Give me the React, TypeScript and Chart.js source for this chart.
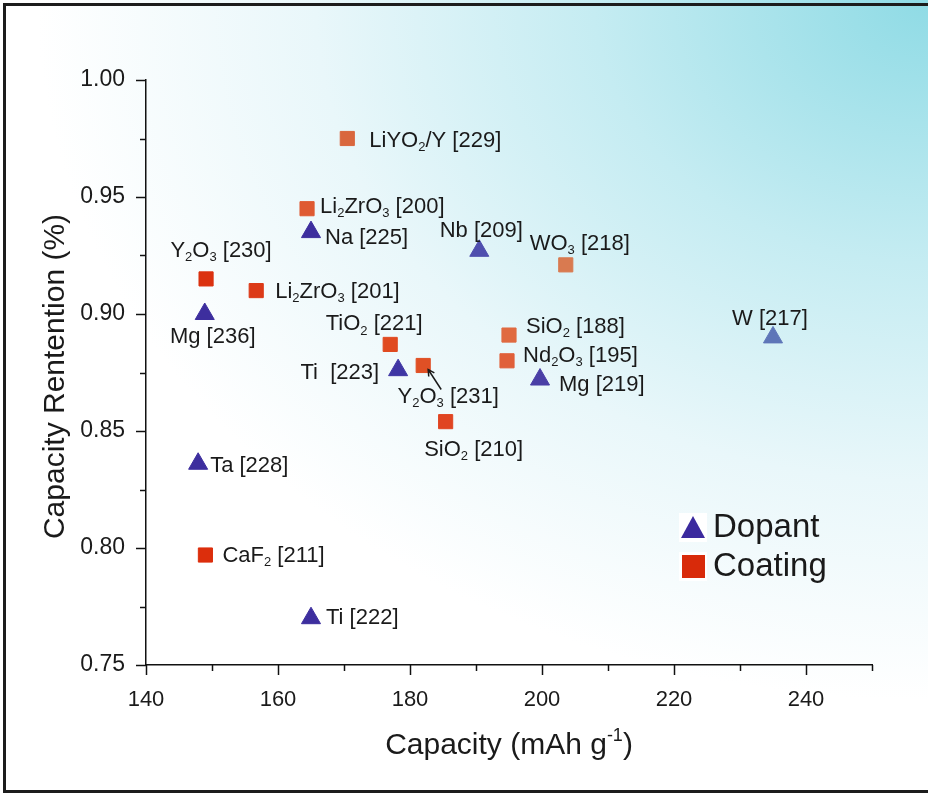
import React, { useEffect, useRef } from "react";
import { Chart, registerables } from "chart.js";

Chart.register(...registerables);

// ---------- data ----------
const dopantX = [165, 190.5, 148.9, 178.2, 199.7, 235, 147.9, 165];
const dopantY = [0.935, 0.927, 0.9, 0.876, 0.872, 0.89, 0.836, 0.77];
const dopantLabels = ["Na [225]", "Nb [209]", "Mg [236]", "Ti  [223]", "Mg [219]", "W [217]", "Ta [228]", "Ti [222]"];
const dopantColors = ["#3d2e9e", "#4f4fae", "#3d2e9e", "#3f36a4", "#4a3fa6", "#5e76b8", "#3d2e9e", "#3d2e9e"];

const coatingX = [170.5, 164.4, 149.1, 156.7, 203.6, 177, 182, 195, 194.7, 185.4, 149];
const coatingY = [0.975, 0.945, 0.915, 0.91, 0.921, 0.887, 0.878, 0.891, 0.88, 0.854, 0.797];
const coatingLabels = [
  "LiYO_2/Y [229]", "Li_2ZrO_3 [200]", "Y_2O_3 [230]", "Li_2ZrO_3 [201]", "WO_3 [218]",
  "TiO_2 [221]", "Y_2O_3 [231]", "SiO_2 [188]", "Nd_2O_3 [195]", "SiO_2 [210]", "CaF_2 [211]",
];
const coatingColors = ["#d9673e", "#df5a32", "#db3210", "#dc3a18", "#d97a50", "#e04a20", "#e05025", "#e06a40", "#e0603a", "#e04522", "#dc2e0c"];

const xTicksMin = 140;
const xTicksMax = 250;
const xMajorStep = 20;
const yTicksMin = 0.75;
const yTicksMax = 1.0;
const yMajorStep = 0.05;

// label placement (offset from point in px, alignment)
const dopantLabelPos: [number, number, string][] = [
  [14, 6, "left"], [2, -20, "center"], [8, 23, "center"], [-19, 3, "right"],
  [19, 5, "left"], [-3, -18, "center"], [12, 2, "left"], [15, 0, "left"],
];
const coatingLabelPos: [number, number, string][] = [
  [22, 2, "left"], [13, -2, "left"], [15, -28, "center"], [19, 1, "left"], [14, -21, "center"],
  [-16, -20, "center"], [25, 31, "center"], [17, -8, "left"], [16, -5, "left"], [28, 28, "center"], [17, 1, "left"],
];

const FONT = "'Liberation Sans', Arial, Helvetica, sans-serif";
const TEXT = "#1a1a1a";

type Seg = { t: string; kind: "n" | "sub" | "sup" };
function parseRich(text: string): Seg[] {
  const segs: Seg[] = [];
  let cur = "";
  let i = 0;
  while (i < text.length) {
    const c = text[i];
    if (c === "_" || c === "^") {
      if (cur) segs.push({ t: cur, kind: "n" });
      cur = "";
      let s = "";
      if (text[i + 1] === "{") {
        const end = text.indexOf("}", i);
        s = text.slice(i + 2, end);
        i = end + 1;
      } else {
        s = text[i + 1];
        i += 2;
      }
      segs.push({ t: s, kind: c === "_" ? "sub" : "sup" });
    } else {
      cur += c;
      i++;
    }
  }
  if (cur) segs.push({ t: cur, kind: "n" });
  return segs;
}

function drawRich(ctx: CanvasRenderingContext2D, text: string, x: number, y: number, size: number, align: string) {
  const segs = parseRich(text);
  const small = Math.round(size * 0.6);
  const widths = segs.map((s) => {
    ctx.font = `${s.kind === "n" ? size : small}px ${FONT}`;
    return ctx.measureText(s.t).width;
  });
  const total = widths.reduce((a, b) => a + b, 0);
  let cx = align === "left" ? x : align === "right" ? x - total : x - total / 2;
  ctx.textAlign = "left";
  ctx.textBaseline = "middle";
  ctx.fillStyle = TEXT;
  segs.forEach((s, k) => {
    ctx.font = `${s.kind === "n" ? size : small}px ${FONT}`;
    const dy = s.kind === "sub" ? size * 0.3 : s.kind === "sup" ? -size * 0.32 : 0;
    ctx.fillText(s.t, cx, y + dy);
    cx += widths[k];
  });
}

const isMajor = (v: number, step: number) => Math.abs(Math.round(v / step) * step - v) < 1e-6;

const annotPlugin = {
  id: "annot",
  afterDraw(chart: any) {
    const ctx: CanvasRenderingContext2D = chart.ctx;
    ctx.save();
    // custom tick marks (major long, minor short)
    const area = chart.chartArea;
    const xs = chart.scales.x;
    const ys = chart.scales.y;
    ctx.strokeStyle = "#111";
    ctx.lineWidth = 1.5;
    xs.ticks.forEach((t: any) => {
      const px = Math.round(xs.getPixelForValue(t.value)) + 0.5;
      const len = isMajor(t.value, xMajorStep) && t.value < xTicksMax ? 10 : 6;
      ctx.beginPath();
      ctx.moveTo(px, area.bottom);
      ctx.lineTo(px, area.bottom + len);
      ctx.stroke();
    });
    ys.ticks.forEach((t: any) => {
      const py = Math.round(ys.getPixelForValue(t.value)) + 0.5;
      const len = isMajor(t.value, yMajorStep) ? 10 : 6;
      ctx.beginPath();
      ctx.moveTo(area.left, py);
      ctx.lineTo(area.left - len, py);
      ctx.stroke();
    });

    const sets = [
      { labels: dopantLabels, pos: dopantLabelPos },
      { labels: coatingLabels, pos: coatingLabelPos },
    ];
    sets.forEach((set, di) => {
      const meta = chart.getDatasetMeta(di);
      meta.data.forEach((el: any, i: number) => {
        const [dx, dy, al] = set.pos[i];
        drawRich(ctx, set.labels[i], el.x + dx, el.y + dy, 22, al);
      });
    });
    // arrow for Y2O3 [231]
    const p = chart.getDatasetMeta(1).data[6];
    const x0 = p.x + 18, y0 = p.y + 24, x1 = p.x + 5, y1 = p.y + 4;
    ctx.strokeStyle = TEXT;
    ctx.lineWidth = 1.5;
    ctx.beginPath();
    ctx.moveTo(x0, y0);
    ctx.lineTo(x1, y1);
    ctx.stroke();
    const ang = Math.atan2(y1 - y0, x1 - x0);
    ctx.beginPath();
    ctx.moveTo(x1 - 7 * Math.cos(ang - 0.5), y1 - 7 * Math.sin(ang - 0.5));
    ctx.lineTo(x1, y1);
    ctx.lineTo(x1 - 7 * Math.cos(ang + 0.5), y1 - 7 * Math.sin(ang + 0.5));
    ctx.stroke();

    // axis titles
    drawRich(ctx, "Capacity (mAh g^{-1})", (area.left + area.right) / 2, 746, 30, "center");
    ctx.save();
    ctx.translate(56, (area.top + area.bottom) / 2 + 4);
    ctx.rotate(-Math.PI / 2);
    drawRich(ctx, "Capacity Rentention (%)", 0, 0, 30, "center");
    ctx.restore();

    // legend
    const lx = 693;
    ctx.fillStyle = "#ffffff";
    ctx.fillRect(lx - 14, 513, 28, 29);
    ctx.fillRect(lx - 14, 552, 28, 29);
    ctx.fillStyle = "#3b2a9e";
    ctx.beginPath();
    ctx.moveTo(lx, 516);
    ctx.lineTo(lx + 12, 538);
    ctx.lineTo(lx - 12, 538);
    ctx.closePath();
    ctx.fill();
    ctx.fillStyle = "#d82a0a";
    ctx.fillRect(lx - 11, 555, 23, 23);
    drawRich(ctx, "Dopant", 713, 528, 33, "left");
    drawRich(ctx, "Coating", 713, 567, 33, "left");
    ctx.restore();
  },
};

export default function App() {
  const ref = useRef<HTMLCanvasElement | null>(null);
  useEffect(() => {
    if (!ref.current) return;
    Chart.defaults.font.family = FONT;
    const chart = new Chart(ref.current, {
      type: "scatter",
      data: {
        datasets: [
          {
            label: "Dopant",
            data: dopantX.map((x, i) => ({ x, y: dopantY[i] })),
            pointStyle: "triangle",
            pointRadius: 11,
            pointHoverRadius: 11,
            backgroundColor: dopantColors,
            borderColor: dopantColors,
            borderWidth: 1,
          },
          {
            label: "Coating",
            data: coatingX.map((x, i) => ({ x, y: coatingY[i] })),
            pointStyle: "rect",
            pointRadius: 10,
            pointHoverRadius: 10,
            backgroundColor: coatingColors,
            borderColor: coatingColors,
            borderWidth: 1,
          },
        ],
      },
      options: {
        animation: false,
        responsive: false,
        events: [],
        layout: { padding: { top: 80, right: 56, left: 0, bottom: 0 } },
        plugins: { legend: { display: false }, tooltip: { enabled: false } },
        scales: {
          x: {
            type: "linear",
            min: xTicksMin,
            max: xTicksMax,
            afterFit: (s: any) => { s.height = 131; },
            ticks: {
              stepSize: 10,
              autoSkip: false,
              maxRotation: 0,
              padding: 22,
              color: TEXT,
              font: { size: 22 },
              callback: (v: any) => (isMajor(v, xMajorStep) && v < xTicksMax ? String(Math.round(v)) : ""),
            },
            grid: { drawOnChartArea: false, drawTicks: false },
            border: { display: true, color: "#111", width: 1.5 },
          },
          y: {
            type: "linear",
            min: yTicksMin,
            max: yTicksMax,
            afterFit: (s: any) => { s.width = 146; },
            ticks: {
              stepSize: 0.025,
              autoSkip: false,
              padding: 21,
              color: TEXT,
              font: { size: 23 },
              callback: (v: any) => (isMajor(v, yMajorStep) ? (Math.round(v / yMajorStep) * yMajorStep).toFixed(2) : ""),
            },
            grid: { drawOnChartArea: false, drawTicks: false },
            border: { display: true, color: "#111", width: 1.5 },
          },
        },
      },
      plugins: [annotPlugin],
    } as any);
    return () => chart.destroy();
  }, []);

  return (
    <div
      style={{
        position: "fixed",
        left: 0,
        top: 0,
        width: 928,
        height: 796,
        overflow: "hidden",
        background:
          "radial-gradient(ellipse 120% 110% at 100% 0%, #8fdbe5 0%, #c5ecf2 30%, #e9f7fa 55%, #ffffff 80%)",
      }}
    >
      <div
        style={{
          position: "absolute",
          left: 3,
          top: 3,
          width: 960,
          height: 790,
          boxSizing: "border-box",
          border: "3px solid #1c1c1c",
        }}
      />
      <canvas ref={ref} width={928} height={796} style={{ position: "absolute", left: 0, top: 0 }} />
    </div>
  );
}
